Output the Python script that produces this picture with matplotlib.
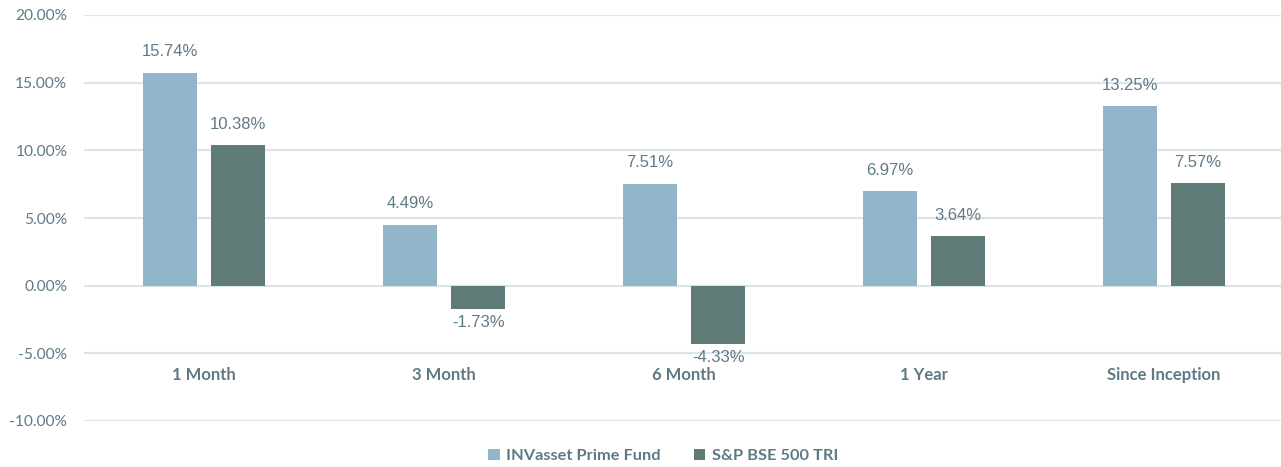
import numpy as np
import matplotlib
matplotlib.use("Agg")
import matplotlib.pyplot as plt
from matplotlib.patches import Patch

categories = ['1 Month', '3 Month', '6 Month', '1 Year', 'Since Inception']
fund = [15.74, 4.49, 7.51, 6.97, 13.25]
bench = [10.38, -1.73, -4.33, 3.64, 7.57]
series_names = ['INVasset Prime Fund', 'S&P BSE 500 TRI']
yticks = [-10, -5, 0, 5, 10, 15, 20]

c_fund = '#92b6c9'
c_bench = '#5e7b78'
c_text = '#5f7a86'
c_grid = '#dde4e8'

W, H = 1281, 467
fig = plt.figure(figsize=(W / 100, H / 100), dpi=100)
ax = fig.add_axes([84 / W, 1 - 421 / H, 1200 / W, (421 - 15) / H])

x = np.arange(len(categories))
bw = 0.226
off = 0.142
ax.bar(x - off, fund, bw, color=c_fund, zorder=3)
ax.bar(x + off, bench, bw, color=c_bench, zorder=3)

lab_kw = dict(ha='center', fontsize=12, family='Liberation Sans', color=c_text)
for xi, v in zip(x - off, fund):
    ax.text(xi, v + 1.0, f'{v:.2f}%', va='bottom', **lab_kw)
for xi, v in zip(x + off, bench):
    if v >= 0:
        ax.text(xi, v + 1.0, f'{v:.2f}%', va='bottom', **lab_kw)
    else:
        ax.text(xi, v - 0.45, f'{v:.2f}%', va='top', **lab_kw)

for xi, lab in zip(x, categories):
    ax.text(xi, -6.6, lab, ha='center', va='center', fontsize=12, family='Lato',
            fontweight='bold', color=c_text)

ax.set_xlim(-0.5, len(categories) - 0.5)
ax.set_ylim(-10, 20)
ax.set_yticks(yticks)
ax.set_yticklabels([f'{t:.2f}%' for t in yticks], family='Lato', fontsize=11.2, color=c_text)
ax.set_xticks([])
ax.tick_params(axis='y', length=0, pad=12)
ax.grid(axis='y', color=c_grid, lw=1.5, zorder=0)
for s in ax.spines.values():
    s.set_visible(False)

handles = [Patch(facecolor=c_fund, label=series_names[0]),
           Patch(facecolor=c_bench, label=series_names[1])]
leg = fig.legend(handles=handles, loc='center', bbox_to_anchor=(663 / W, 1 - 456 / H),
                 ncol=2, frameon=False, handlelength=0.7, handleheight=0.7,
                 handletextpad=0.4, columnspacing=2.0,
                 prop={'family': 'Lato', 'weight': 'bold', 'size': 11.8})
for t in leg.get_texts():
    t.set_color(c_text)

fig.savefig('out.png', dpi=100)
